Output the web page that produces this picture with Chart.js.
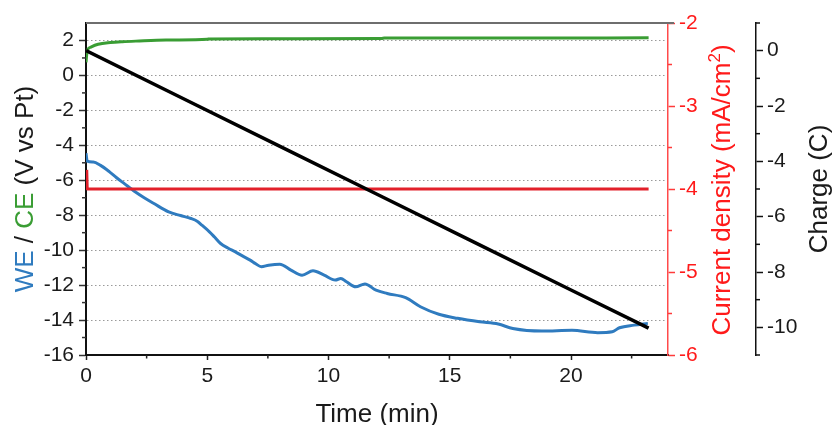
<!DOCTYPE html>
<html><head><meta charset="utf-8">
<script src="https://cdn.jsdelivr.net/npm/chart.js@4.4.1/dist/chart.umd.min.js"></script>
<style>html,body{margin:0;padding:0;background:#fff;overflow:hidden}#wrap{width:833px;height:425px;position:relative}</style>
</head><body><div id="wrap"><canvas id="c" width="833" height="425"></canvas></div>
<script>
// ---- data ----
const weTime = [0, 0.05, 0.3, 0.6, 0.97, 1.25, 1.58, 2.04, 2.4, 2.8, 3.41, 3.9, 4.33, 4.6, 4.78, 5.09, 5.3, 5.55, 5.85, 6.16, 6.45, 6.77, 7.0, 7.23, 7.53, 7.99, 8.45, 8.91, 9.36, 9.82, 10.28, 10.51, 10.74, 11.12, 11.5, 11.96, 12.42, 13.18, 13.79, 14.55, 15.32, 16.23, 17.0, 17.6, 18.8, 20.04, 21.1, 21.7, 22.0, 22.6, 23.17];
const weVolt = [-4.45, -4.9, -4.95, -5.15, -5.52, -5.84, -6.19, -6.67, -7.0, -7.33, -7.81, -8.02, -8.19, -8.36, -8.57, -8.95, -9.25, -9.62, -9.88, -10.1, -10.33, -10.57, -10.78, -10.95, -10.86, -10.8, -11.14, -11.43, -11.18, -11.43, -11.71, -11.62, -11.81, -12.1, -11.94, -12.29, -12.48, -12.72, -13.24, -13.67, -13.9, -14.1, -14.23, -14.48, -14.63, -14.59, -14.72, -14.67, -14.44, -14.29, -14.19];
const ceTime = [0, 0.03, 0.08, 0.2, 0.5, 1.0, 1.5, 2.2, 3.3, 5.0, 5.1, 8.0, 12.2, 12.3, 18.0, 23.2];
const ceVolt = [0.75, 1.2, 1.5, 1.62, 1.78, 1.88, 1.93, 1.97, 2.02, 2.07, 2.09, 2.1, 2.12, 2.14, 2.14, 2.15];
const jTime = [0.03, 0.05, 23.2];
const jValue = [-3.77, -4.0, -4.0];
const qTime = [0, 4, 8, 12, 16, 20, 23.2];
const qValue = [0, -1.73, -3.46, -5.19, -6.92, -8.65, -10.03];

const xTicks = [0, 5, 10, 15, 20];
const xMinor = [2.5, 7.5, 12.5, 17.5, 22.5];
const vTicks = [-16, -14, -12, -10, -8, -6, -4, -2, 0, 2];
const vMinor = [-15, -13, -11, -9, -7, -5, -3, -1, 1];
const jTicks = [-6, -5, -4, -3, -2];
const jMinor = [-5.5, -4.5, -3.5, -2.5];
const qTicks = [-10, -8, -6, -4, -2, 0];
const qMinor = [-11, -9, -7, -5, -3, -1, 1];

const FONT = "'Liberation Sans', Arial, sans-serif";
Chart.defaults.font.family = FONT;
const pts = (xs, ys) => xs.map((x, i) => ({x: x, y: ys[i]}));
const setTicks = vals => scale => { scale.ticks = vals.map(v => ({value: v})); };

function drawRotated(ctx, x, y, parts) {
  ctx.save();
  ctx.translate(x, y);
  ctx.rotate(-Math.PI / 2);
  ctx.textBaseline = 'alphabetic';
  ctx.textAlign = 'left';
  let total = 0;
  parts.forEach(p => { ctx.font = p.font; p.w = ctx.measureText(p.text).width; total += p.w; });
  let cx = -total / 2;
  parts.forEach(p => { ctx.font = p.font; ctx.fillStyle = p.color; ctx.fillText(p.text, cx, p.dy || 0); cx += p.w; });
  ctx.restore();
}

const decor = {
  id: 'decor',
  afterDraw(chart) {
    const ctx = chart.ctx;
    const a = chart.chartArea;
    const sx = chart.scales.x, sy = chart.scales.y, sj = chart.scales.yJ, sq = chart.scales.yQ;
    ctx.save();
    ctx.strokeStyle = '#6e6e6e'; ctx.lineWidth = 2;
    ctx.beginPath(); ctx.moveTo(a.left, a.top); ctx.lineTo(a.right + 6, a.top); ctx.stroke();
    ctx.lineWidth = 1.5;
    ctx.strokeStyle = '#222';
    xMinor.forEach(v => { const p = sx.getPixelForValue(v); ctx.beginPath(); ctx.moveTo(p, a.bottom); ctx.lineTo(p, a.bottom + 3.5); ctx.stroke(); });
    ctx.strokeStyle = '#333';
    vMinor.forEach(v => { const p = sy.getPixelForValue(v); ctx.beginPath(); ctx.moveTo(a.left, p); ctx.lineTo(a.left - 4, p); ctx.stroke(); });
    ctx.strokeStyle = '#ff3b3b';
    jMinor.forEach(v => { const p = sj.getPixelForValue(v); ctx.beginPath(); ctx.moveTo(sj.left, p); ctx.lineTo(sj.left + 4, p); ctx.stroke(); });
    ctx.strokeStyle = '#111';
    qMinor.forEach(v => { const p = sq.getPixelForValue(v); ctx.beginPath(); ctx.moveTo(sq.left, p); ctx.lineTo(sq.left + 4, p); ctx.stroke(); });
    ctx.restore();

    const f26 = '26px ' + FONT;
    const cy = (a.top + a.bottom) / 2;
    drawRotated(ctx, 33, cy, [
      {text: 'WE', color: '#2f7bbf', font: f26},
      {text: ' / ', color: '#1a1a1a', font: f26},
      {text: 'CE', color: '#3a9d34', font: f26},
      {text: ' (V vs Pt)', color: '#1a1a1a', font: f26}
    ]);
    drawRotated(ctx, 729.5, cy + 1, [
      {text: 'Current density (mA/cm', color: '#ff1a1a', font: f26},
      {text: '2', color: '#ff1a1a', font: '17px ' + FONT, dy: -10},
      {text: ')', color: '#ff1a1a', font: f26}
    ]);
    drawRotated(ctx, 826.5, cy, [
      {text: 'Charge (C)', color: '#1a1a1a', font: f26}
    ]);
    ctx.save();
    ctx.font = f26; ctx.fillStyle = '#1a1a1a'; ctx.textAlign = 'center'; ctx.textBaseline = 'alphabetic';
    ctx.fillText('Time (min)', (a.left + a.right) / 2, 421.5);
    ctx.restore();
  }
};

new Chart(document.getElementById('c').getContext('2d'), {
  type: 'line',
  data: {
    datasets: [
      {label: 'Charge', data: pts(qTime, qValue), yAxisID: 'yQ', borderColor: '#000000', borderWidth: 3.5, order: 0},
      {label: 'Current density', data: pts(jTime, jValue), yAxisID: 'yJ', borderColor: '#e2202a', borderWidth: 3, order: 1},
      {label: 'CE', data: pts(ceTime, ceVolt), yAxisID: 'y', borderColor: '#3a9d34', borderWidth: 3, order: 2, cubicInterpolationMode: 'monotone'},
      {label: 'WE', data: pts(weTime, weVolt), yAxisID: 'y', borderColor: '#2f7bbf', borderWidth: 3, order: 3, cubicInterpolationMode: 'monotone'}
    ]
  },
  options: {
    responsive: false,
    animation: false,
    events: [],
    layout: {padding: {top: 23, left: 0, right: 0, bottom: 0}},
    plugins: {legend: {display: false}, tooltip: {enabled: false}},
    elements: {point: {radius: 0}, line: {tension: 0, borderJoinStyle: 'round', fill: false}},
    scales: {
      x: {
        type: 'linear', position: 'bottom', min: 0, max: 24,
        afterBuildTicks: setTicks(xTicks),
        afterFit: s => { s.height = 70; },
        grid: {drawOnChartArea: false, drawTicks: true, tickLength: 5, tickColor: '#222', tickWidth: 1.5},
        border: {display: true, color: '#111', width: 2},
        ticks: {font: {size: 21}, color: '#1a1a1a', padding: 4, maxRotation: 0, autoSkip: false}
      },
      y: {
        type: 'linear', position: 'left', min: -16, max: 3,
        afterBuildTicks: setTicks(vTicks),
        afterFit: s => { s.width = 86; },
        grid: {
          drawOnChartArea: true,
          color: c => (c.tick && c.tick.value === -16) ? 'rgba(0,0,0,0)' : '#9a9a9a',
          lineWidth: 1, tickLength: 7, tickColor: '#333', tickWidth: 1.5
        },
        border: {display: true, color: '#111', width: 2, dash: [1.5, 2.5]},
        ticks: {font: {size: 21}, color: '#1a1a1a', padding: 5, autoSkip: false}
      },
      yJ: {
        type: 'linear', position: 'right', min: -6, max: -2,
        afterBuildTicks: setTicks(jTicks),
        afterFit: s => { s.width = 88; },
        grid: {drawOnChartArea: false, tickLength: 7, tickColor: '#ff3b3b', tickWidth: 1.5},
        border: {display: true, color: '#ff4a4a', width: 1.5},
        ticks: {font: {size: 21}, color: '#ff1a1a', padding: 4, autoSkip: false}
      },
      yQ: {
        type: 'linear', position: 'right', min: -11, max: 1,
        afterBuildTicks: setTicks(qTicks),
        afterFit: s => { s.width = 77; },
        grid: {drawOnChartArea: false, tickLength: 7, tickColor: '#111', tickWidth: 1.5},
        border: {display: true, color: '#111', width: 1.5},
        ticks: {font: {size: 21}, color: '#1a1a1a', padding: 4, autoSkip: false}
      }
    }
  },
  plugins: [decor]
});
</script>
</body></html>
